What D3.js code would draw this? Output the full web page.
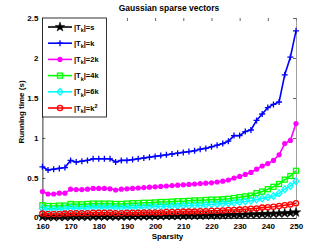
<!DOCTYPE html>
<html><head><meta charset="utf-8">
<script src="https://cdn.jsdelivr.net/npm/d3@7"></script>
<style>body{margin:0;background:#fff}svg{display:block}text{font-family:"Liberation Sans",Arial,sans-serif;font-weight:bold}</style>
</head><body>
<script>
const sparsity = [160,162,164,166,168,170,172,174,176,178,180,182,184,186,188,190,192,194,196,198,200,202,204,206,208,210,212,214,216,218,220,222,224,226,228,230,232,234,236,238,240,242,244,246,248,250];
const tS  = [0.015,0.012,0.012,0.013,0.014,0.016,0.016,0.017,0.017,0.018,0.018,0.019,0.019,0.018,0.019,0.02,0.021,0.021,0.022,0.023,0.024,0.025,0.026,0.026,0.027,0.028,0.029,0.03,0.031,0.032,0.033,0.034,0.036,0.038,0.039,0.041,0.043,0.045,0.047,0.049,0.052,0.054,0.057,0.06,0.064,0.07];
const tK  = [0.64,0.60,0.61,0.62,0.63,0.72,0.70,0.71,0.72,0.74,0.74,0.74,0.74,0.70,0.72,0.72,0.73,0.74,0.75,0.76,0.77,0.78,0.79,0.80,0.81,0.82,0.83,0.84,0.86,0.87,0.89,0.91,0.93,0.96,1.03,1.03,1.08,1.10,1.22,1.30,1.38,1.42,1.45,1.79,2.01,2.34];
const t2K = [0.33,0.30,0.30,0.31,0.31,0.36,0.355,0.355,0.36,0.37,0.37,0.37,0.365,0.35,0.36,0.365,0.37,0.375,0.38,0.385,0.39,0.395,0.40,0.405,0.41,0.415,0.42,0.425,0.43,0.435,0.44,0.45,0.46,0.475,0.50,0.52,0.545,0.57,0.61,0.65,0.68,0.72,0.79,0.93,0.97,1.18];
const t4K = [0.16,0.15,0.15,0.155,0.155,0.175,0.17,0.17,0.175,0.18,0.18,0.18,0.18,0.175,0.175,0.18,0.185,0.185,0.19,0.19,0.195,0.20,0.20,0.205,0.21,0.21,0.215,0.22,0.22,0.225,0.23,0.23,0.235,0.24,0.25,0.26,0.27,0.28,0.31,0.33,0.36,0.39,0.425,0.48,0.525,0.59];
const t6K = [0.12,0.11,0.11,0.11,0.115,0.125,0.12,0.12,0.125,0.13,0.13,0.13,0.13,0.125,0.125,0.13,0.13,0.135,0.135,0.14,0.14,0.145,0.145,0.15,0.15,0.155,0.155,0.16,0.16,0.165,0.17,0.175,0.18,0.185,0.19,0.20,0.205,0.215,0.23,0.245,0.26,0.275,0.31,0.36,0.40,0.46];
const tK2 = [0.055,0.05,0.05,0.05,0.055,0.06,0.06,0.06,0.06,0.065,0.065,0.065,0.065,0.06,0.06,0.065,0.065,0.065,0.07,0.07,0.07,0.07,0.075,0.075,0.075,0.08,0.08,0.08,0.085,0.085,0.09,0.09,0.095,0.10,0.10,0.105,0.11,0.115,0.12,0.13,0.135,0.14,0.15,0.16,0.17,0.185];
const xTicks = [160,170,180,190,200,210,220,230,240,250];
const yTicks = [0,0.5,1,1.5,2,2.5];
const yTickLabels = ["0","0.5","1","1.5","2","2.5"];
const seriesNames = ["s","k","2k","4k","6k","k"];
const seriesSup = ["","","","","","2"];
const seriesColors = ["#000000","#0000ff","#ff00ff","#00ff00","#00ffff","#ff0000"];
const seriesMarkers = ["star","plus","dot","square","diamond","circle"];
const seriesData = [tS,tK,t2K,t4K,t6K,tK2];

const W=327,H=246;
const m={l:42.4,r:31,t:18,b:28};
const svg=d3.select("body").append("svg").attr("width",W).attr("height",H);
const x=d3.scaleLinear().domain([160,250]).range([m.l,W-m.r]);
const y=d3.scaleLinear().domain([0,2.5]).range([H-m.b,m.t]);

svg.append("text").attr("x",169).attr("y",11).attr("text-anchor","middle").attr("font-size",8.5).text("Gaussian sparse vectors");

const xa=svg.append("g").attr("transform",`translate(0,${H-m.b})`).call(d3.axisBottom(x).tickValues(xTicks).tickSizeInner(-3).tickSizeOuter(0).tickPadding(5));
const ya=svg.append("g").attr("transform",`translate(${m.l},0)`).call(d3.axisLeft(y).tickValues(yTicks).tickFormat((d,i)=>yTickLabels[i]).tickSizeInner(-3).tickSizeOuter(0).tickPadding(4));
const xt=svg.append("g").attr("transform",`translate(0,${m.t})`).call(d3.axisTop(x).tickValues(xTicks).tickSizeInner(-3).tickSizeOuter(0).tickFormat(""));
const yr=svg.append("g").attr("transform",`translate(${W-m.r},0)`).call(d3.axisRight(y).tickValues(yTicks).tickSizeInner(-3).tickSizeOuter(0).tickFormat(""));
[xa,ya,xt,yr].forEach(g=>{g.selectAll("text").attr("font-size",8).attr("font-family","Liberation Sans, Arial, sans-serif").attr("font-weight","bold").attr("fill","#000");g.select(".domain").attr("stroke","#000").attr("stroke-width",0.8);g.selectAll(".tick line").attr("stroke","#000").attr("stroke-width",0.6);});
xt.select(".domain").remove();yr.select(".domain").attr("stroke","#888");
xa.selectAll("text").attr("dy","0.8em");
ya.selectAll("text").filter((d,i)=>i===0).attr("dy","0.2em");

svg.append("text").attr("x",167.5).attr("y",238.5).attr("text-anchor","middle").attr("font-size",8).text("Sparsity");
svg.append("text").attr("transform","translate(24,112) rotate(-90)").attr("text-anchor","middle").attr("font-size",8).text("Running time (s)");

function drawMarker(g,type,cx,cy,color){
  if(type==="star"){
    g.append("path").attr("d",d3.symbol(d3.symbolStar,28)()).attr("transform",`translate(${cx},${cy})`).attr("fill",color).attr("stroke",color).attr("stroke-width",0.5);
  } else if(type==="plus"){
    g.append("path").attr("d",`M${cx-3},${cy}H${cx+3}M${cx},${cy-3}V${cy+3}`).attr("stroke",color).attr("stroke-width",1.3).attr("fill","none");
  } else if(type==="dot"){
    g.append("circle").attr("cx",cx).attr("cy",cy).attr("r",2.6).attr("fill",color);
  } else if(type==="square"){
    g.append("rect").attr("x",cx-2.5).attr("y",cy-2.5).attr("width",5).attr("height",5).attr("fill","none").attr("stroke",color).attr("stroke-width",1.3);
  } else if(type==="diamond"){
    g.append("path").attr("d",`M${cx},${cy-3.3}L${cx+3},${cy}L${cx},${cy+3.3}L${cx-3},${cy}Z`).attr("fill","none").attr("stroke",color).attr("stroke-width",1.3);
  } else if(type==="circle"){
    g.append("circle").attr("cx",cx).attr("cy",cy).attr("r",2.6).attr("fill","none").attr("stroke",color).attr("stroke-width",1.3);
  }
}

const line=d3.line().x((d,i)=>x(sparsity[i])).y(d=>y(d));
const plot=svg.append("g");
seriesData.forEach((s,k)=>{
  const g=plot.append("g");
  g.append("path").attr("d",line(s)).attr("fill","none").attr("stroke",seriesColors[k]).attr("stroke-width",1.6);
  s.forEach((v,i)=>drawMarker(g,seriesMarkers[k],x(sparsity[i]),y(v),seriesColors[k]));
});

const lg=svg.append("g");
lg.append("rect").attr("x",m.l).attr("y",m.t).attr("width",64).attr("height",99).attr("fill","#fff").attr("stroke","#000").attr("stroke-width",0.8);
seriesNames.forEach((n,k)=>{
  const ly=m.t+9+k*16.2;
  lg.append("line").attr("x1",48).attr("x2",72).attr("y1",ly).attr("y2",ly).attr("stroke",seriesColors[k]).attr("stroke-width",1.6);
  drawMarker(lg,seriesMarkers[k],60,ly,seriesColors[k]);
  const t=lg.append("text").attr("x",74).attr("y",ly+2.5).attr("font-size",7.5);
  t.append("tspan").text("|T");
  t.append("tspan").attr("font-size",5.5).attr("dy",2.5).text("k");
  t.append("tspan").attr("dy",-2.5).text("|="+n);
  if(seriesSup[k]) t.append("tspan").attr("font-size",5.5).attr("dy",-3).text(seriesSup[k]);
});
</script>
</body></html>
